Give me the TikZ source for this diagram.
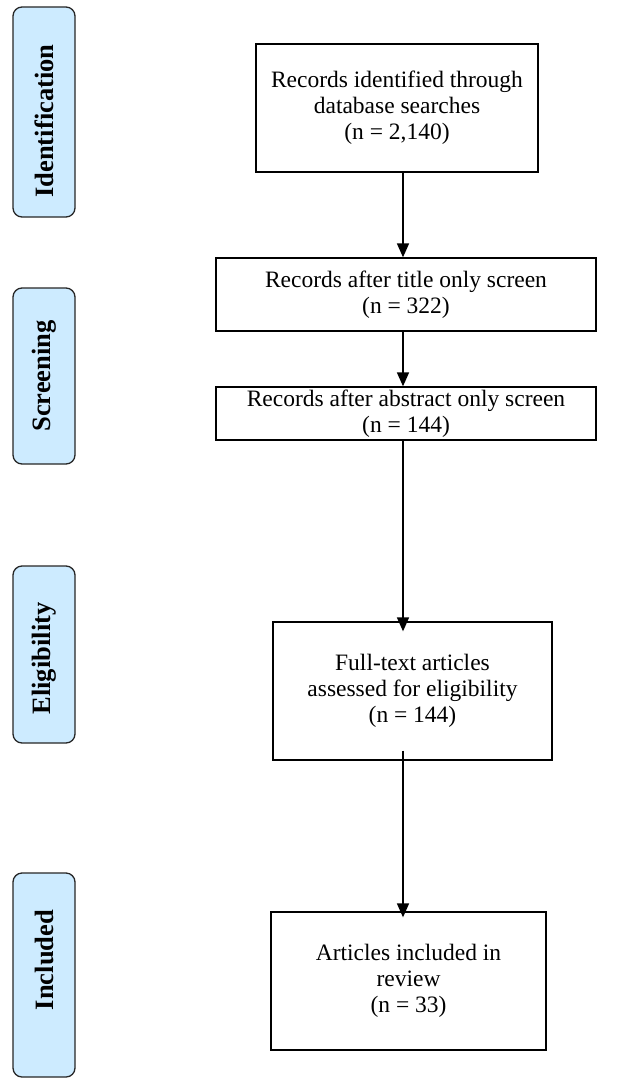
\documentclass[tikz,border=0pt]{standalone}
\usepackage{fontspec}
\setmainfont{Liberation Serif}
\usetikzlibrary{arrows.meta}
\definecolor{phasefill}{RGB}{205,235,255}
\begin{document}
\begin{tikzpicture}[x=1pt,y=-1pt,
  mainbox/.style={draw, line width=1.3pt, align=center, inner sep=0pt,
    font=\fontsize{23.5}{26}\selectfont},
  phase/.style={draw=black!85, rounded corners=9pt, fill=phasefill, line width=1.3pt,
    rotate=90, inner sep=0pt, minimum height=62pt,
    font=\bfseries\fontsize{26.5}{28}\selectfont},
  flow/.style={line width=1.6pt, -{Triangle[length=14pt,width=12pt]}}
]
\useasboundingbox (0,0) rectangle (635,1081);

% phase labels
\node[phase, minimum width=210pt] (pid) at (44,112) {Identification\kern18pt};
\node[phase, minimum width=176pt] (psc) at (44,376) {Screening};
\node[phase, minimum width=177pt] (pel) at (44,654.5) {Eligibility\kern8pt};
\node[phase, minimum width=204pt] (pin) at (44,975) {\kern30pt Included};

% main boxes
\node[mainbox, minimum width=282pt, minimum height=128pt] (b1) at (397,108)
  {Records identified through\\database searches\\(n = 2,140)};
\node[mainbox, minimum width=380pt, minimum height=73pt] (b2) at (406,294.5)
  {Records after title only screen\\(n = 322)};
\node[mainbox, minimum width=380pt, minimum height=53pt] (b3) at (406,413.5)
  {Records after abstract only screen\\(n = 144)};
\node[mainbox, minimum width=279pt, minimum height=138pt] (b4) at (412.5,691)
  {Full-text articles\\assessed for eligibility\\(n = 144)};
\node[mainbox, minimum width=275pt, minimum height=138pt] (b5) at (408.5,981)
  {Articles included in\\review\\(n = 33)};

\coordinate (ax) at (403,0);
\draw[flow] (b1.south -| ax) -- (b2.north -| ax);
\draw[flow] (b2.south -| ax) -- (b3.north -| ax);
\draw[flow] (b3.south -| ax) -- ([yshift=-10pt]b4.north -| ax);
\draw[flow] ([yshift=10pt]b4.south -| ax) -- ([yshift=-6pt]b5.north -| ax);
\end{tikzpicture}
\end{document}
